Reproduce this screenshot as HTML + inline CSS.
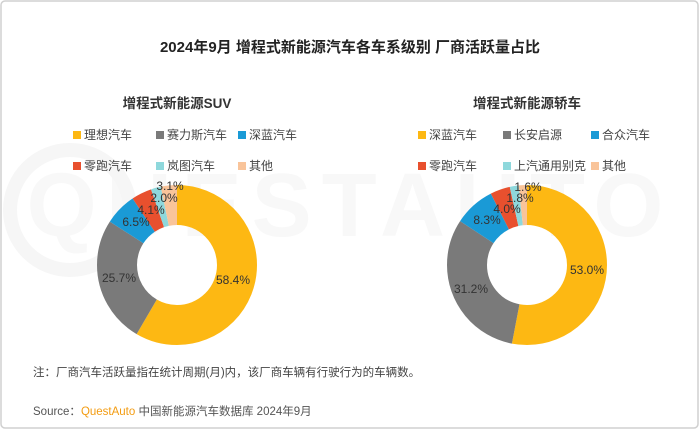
<!DOCTYPE html>
<html><head><meta charset="utf-8"><style>
body{margin:0;width:700px;height:430px;background:#fff;overflow:hidden}
svg{display:block}
text{font-family:"Liberation Sans","Noto Sans CJK SC",sans-serif}
</style></head><body>
<svg width="700" height="430" viewBox="0 0 700 430">
<rect x="1" y="1" width="697" height="427" rx="4" fill="#fff" stroke="#d0d0d0" stroke-width="1.5"/>
<text x="350" y="236" font-size="90" fill="#f8f8f8" text-anchor="middle" font-weight="bold" letter-spacing="10">QUESTAUTO</text>
<circle cx="70" cy="210" r="60" fill="none" stroke="#f6f6f6" stroke-width="14"/>
<text x="350" y="52" font-size="15" fill="#222" text-anchor="middle" font-weight="bold">2024年9月 增程式新能源汽车各车系级别 厂商活跃量占比</text>

<text x="177" y="108" font-size="13.5" fill="#333" text-anchor="middle" font-weight="bold">增程式新能源SUV</text>
<text x="527" y="108" font-size="13.5" fill="#333" text-anchor="middle" font-weight="bold">增程式新能源轿车</text>

<g font-size="12" fill="#444">
<rect x="73" y="131" width="8" height="8" fill="#FDB813"/><text x="84" y="139">理想汽车</text>
<rect x="156" y="131" width="8" height="8" fill="#7a7a7a"/><text x="167" y="139">赛力斯汽车</text>
<rect x="238" y="131" width="8" height="8" fill="#1a9ad6"/><text x="249" y="139">深蓝汽车</text>
<rect x="73" y="162" width="8" height="8" fill="#e8502e"/><text x="84" y="170">零跑汽车</text>
<rect x="156" y="162" width="8" height="8" fill="#8ed8dc"/><text x="167" y="170">岚图汽车</text>
<rect x="238" y="162" width="8" height="8" fill="#f9c49a"/><text x="249" y="170">其他</text>

<rect x="418" y="131" width="8" height="8" fill="#FDB813"/><text x="429" y="139">深蓝汽车</text>
<rect x="503" y="131" width="8" height="8" fill="#7a7a7a"/><text x="514" y="139">长安启源</text>
<rect x="591" y="131" width="8" height="8" fill="#1a9ad6"/><text x="602" y="139">合众汽车</text>
<rect x="418" y="162" width="8" height="8" fill="#e8502e"/><text x="429" y="170">零跑汽车</text>
<rect x="503" y="162" width="8" height="8" fill="#8ed8dc"/><text x="514" y="170">上汽通用别克</text>
<rect x="591" y="162" width="8" height="8" fill="#f9c49a"/><text x="602" y="170">其他</text>
</g>

<g transform="translate(177,265) rotate(-90)" fill="none" stroke-width="40">
<circle r="60" stroke="#FDB813" stroke-dasharray="220.16 400" stroke-dashoffset="0"/>
<circle r="60" stroke="#7a7a7a" stroke-dasharray="96.89 400" stroke-dashoffset="-220.16"/>
<circle r="60" stroke="#1a9ad6" stroke-dasharray="24.50 400" stroke-dashoffset="-317.05"/>
<circle r="60" stroke="#e8502e" stroke-dasharray="15.46 400" stroke-dashoffset="-341.55"/>
<circle r="60" stroke="#8ed8dc" stroke-dasharray="7.54 400" stroke-dashoffset="-357.01"/>
<circle r="60" stroke="#f9c49a" stroke-dasharray="12.44 400" stroke-dashoffset="-364.55"/>
</g>
<g transform="translate(527,265) rotate(-90)" fill="none" stroke-width="40">
<circle r="60" stroke="#FDB813" stroke-dasharray="199.80 400" stroke-dashoffset="0"/>
<circle r="60" stroke="#7a7a7a" stroke-dasharray="117.62 400" stroke-dashoffset="-199.80"/>
<circle r="60" stroke="#1a9ad6" stroke-dasharray="31.29 400" stroke-dashoffset="-317.42"/>
<circle r="60" stroke="#e8502e" stroke-dasharray="15.08 400" stroke-dashoffset="-348.71"/>
<circle r="60" stroke="#8ed8dc" stroke-dasharray="6.79 400" stroke-dashoffset="-363.79"/>
<circle r="60" stroke="#f9c49a" stroke-dasharray="6.42 400" stroke-dashoffset="-370.58"/>
</g>

<g font-size="12" fill="#333" text-anchor="middle">
<text x="233" y="284">58.4%</text>
<text x="119" y="282">25.7%</text>
<text x="136" y="226">6.5%</text>
<text x="151" y="214">4.1%</text>
<text x="164" y="202">2.0%</text>
<text x="170" y="190">3.1%</text>
<text x="587" y="274">53.0%</text>
<text x="471" y="293">31.2%</text>
<text x="487" y="224">8.3%</text>
<text x="507" y="213">4.0%</text>
<text x="520" y="202">1.8%</text>
<text x="528" y="191">1.6%</text>
</g>

<text x="33" y="376" font-size="11.5" fill="#444">注：厂商汽车活跃量指在统计周期(月)内，该厂商车辆有行驶行为的车辆数。</text>
<text x="33" y="415" font-size="11.5" fill="#555">Source：<tspan fill="#f39c12">QuestAuto</tspan> 中国新能源汽车数据库 2024年9月</text>
</svg>
</body></html>
